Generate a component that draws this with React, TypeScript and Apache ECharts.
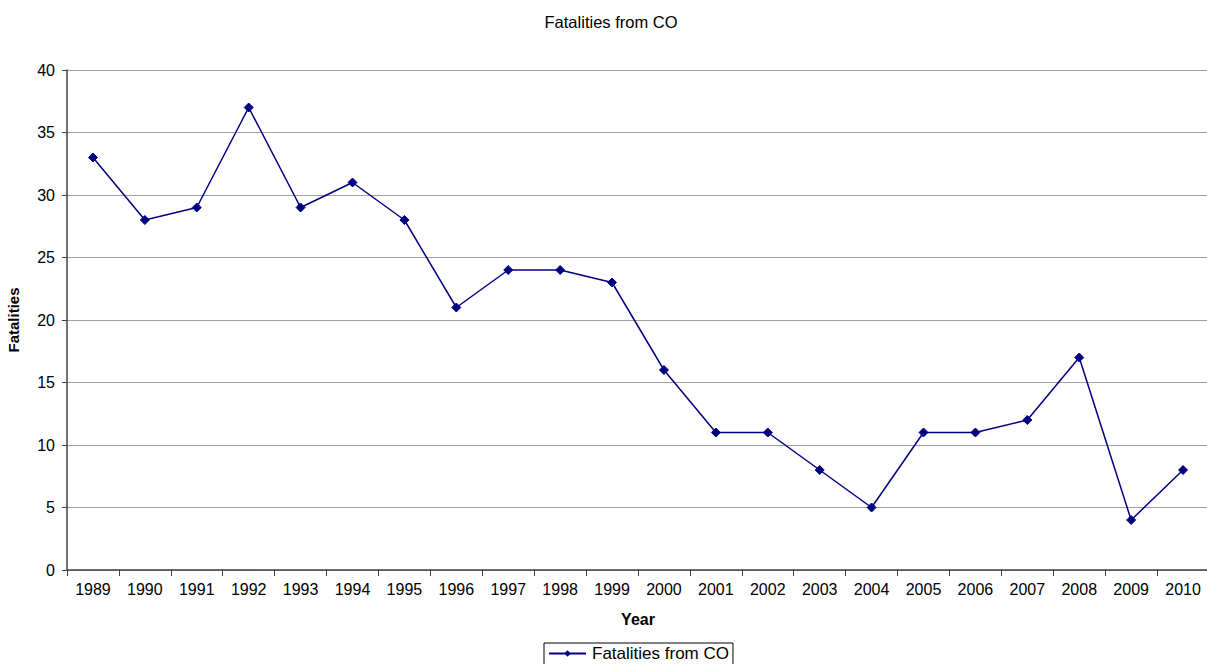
import React, { useEffect, useRef } from "react";
import * as echarts from "echarts";

const years = ["1989","1990","1991","1992","1993","1994","1995","1996","1997","1998","1999","2000","2001","2002","2003","2004","2005","2006","2007","2008","2009","2010"];
const fatalities = [33, 28, 29, 37, 29, 31, 28, 21, 24, 24, 23, 16, 11, 11, 8, 5, 11, 11, 12, 17, 4, 8];
const seriesName = "Fatalities from CO";

export default function App() {
  const ref = useRef<HTMLDivElement>(null);
  useEffect(() => {
    if (!ref.current) return;
    const chart = echarts.init(ref.current, null, { renderer: "svg" });
    const font = "Liberation Sans, Arial, sans-serif";
    chart.setOption({
      animation: false,
      backgroundColor: "#ffffff",
      title: {
        text: "Fatalities from CO",
        left: 606,
        top: 8,
        textAlign: "center",
        textStyle: { fontFamily: font, fontSize: 16.5, fontWeight: "normal", color: "#000" },
      },
      legend: {
        data: [seriesName],
        left: 544,
        top: 643,
        orient: "horizontal",
        borderColor: "#000",
        borderWidth: 1,
        borderRadius: 0,
        padding: [2, 4, 3, 4],
        itemWidth: 37,
        itemHeight: 8,
        itemGap: 4,
        textStyle: { fontFamily: font, fontSize: 17, color: "#000", padding: [0, 0, 0, 1] },
      },
      grid: { left: 67, top: 70, right: -2, bottom: 94, containLabel: false, outerBoundsMode: "none" },
      xAxis: {
        type: "category",
        data: years,
        boundaryGap: true,
        name: "Year",
        nameLocation: "middle",
        nameGap: 41,
        nameTextStyle: { fontFamily: font, fontSize: 16, fontWeight: "bold", color: "#000" },
        axisLine: { lineStyle: { color: "#404040", width: 1.5 } },
        axisTick: { show: true, length: 6, alignWithLabel: false, lineStyle: { color: "#404040" } },
        axisLabel: { fontFamily: font, fontSize: 16, color: "#000", margin: 11, interval: 0 },
        splitLine: { show: false },
      },
      yAxis: {
        type: "value",
        min: 0,
        max: 40,
        interval: 5,
        name: "Fatalities",
        nameLocation: "middle",
        nameGap: 46,
        nameRotate: 90,
        nameTextStyle: { fontFamily: font, fontSize: 15, fontWeight: "bold", color: "#000" },
        axisLine: { show: true, lineStyle: { color: "#404040", width: 1.5 } },
        axisTick: { show: true, length: 5, lineStyle: { color: "#404040" } },
        axisLabel: { fontFamily: font, fontSize: 16, color: "#000", margin: 12 },
        splitLine: { show: true, lineStyle: { color: "#a0a0a0", width: 1 } },
      },
      series: [
        {
          name: seriesName,
          type: "line",
          data: fatalities,
          symbol: "diamond",
          symbolSize: 9,
          showAllSymbol: true,
          lineStyle: { color: "#000080", width: 1.5 },
          itemStyle: { color: "#000080", borderColor: "#000080" },
        },
      ],
    });
    return () => chart.dispose();
  }, []);
  return (
    <div
      ref={ref}
      style={{ position: "fixed", left: 0, top: 0, width: 1207, height: 664 }}
    />
  );
}
